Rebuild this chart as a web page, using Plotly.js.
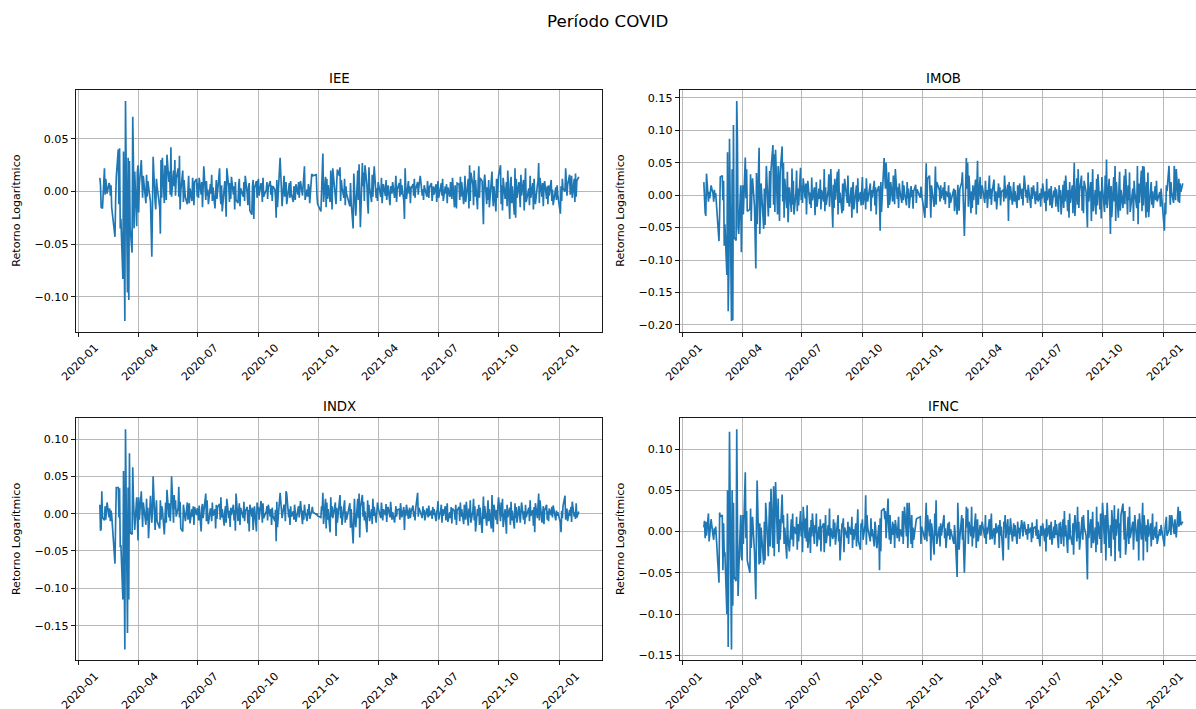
<!DOCTYPE html>
<html>
<head>
<meta charset="utf-8">
<script src="https://cdn.plot.ly/plotly-3.0.1.min.js"></script>
<style>
html,body{margin:0;padding:0;overflow:hidden;background:#fff;width:1196px;height:709px}
#chart{width:1215px;height:740px}
</style>
</head>
<body>
<div id="chart"></div>
<script>
// ---- data (daily log returns, in percent; one line per month) ----
const firstDay = '2020-02-03';
const holidays = ['2020-02-24','2020-02-25','2020-04-10','2020-04-21','2020-05-01','2020-06-11','2020-09-07','2020-10-12','2020-11-02','2020-12-24','2020-12-25','2020-12-31','2021-01-01','2021-01-25','2021-02-15','2021-02-16','2021-04-02','2021-04-21','2021-06-03','2021-09-07','2021-10-12','2021-11-02','2021-11-15','2021-12-24','2021-12-31'];
const quarterLabels = ['2020-01','2020-04','2020-07','2020-10','2021-01','2021-04','2021-07','2021-10','2022-01'];
const panelNames = ['IEE','IMOB','INDX','IFNC'];
const yLabel = 'Retorno Logarítmico';
const figTitle = 'Período COVID';

const ieePct = [
1.3,0.6,-1.5,-1.6,-1.6,2.2,-0.3,1.2,0.4,-0.2,0.8,0.6,-0.4,0.6,-1.5,-4.3,-0.9,1.4,
4.0,-1.2,4.1,-3.5,-2.6,-8.3,3.8,-5.2,-12.3,8.6,-9.6,3.2,-10.3,2.9,-3.4,-5.8,7.1,3.0,-3.5,1.9,-3.3,1.8,
2.5,-2.0,0.6,3.0,1.0,-0.6,1.5,-1.1,1.6,-0.5,1.0,0.4,-1.0,-6.2,0.8,3.3,-1.0,-1.7,1.2,0.5,
-1.5,-4.0,3.0,-0.6,3.2,-1.1,2.5,0.3,-0.8,3.5,0.9,1.9,-0.3,4.2,-0.5,2.0,0.5,3.0,-0.4,1.2,
2.2,-0.5,3.4,-1.7,0.0,2.0,-1.0,1.1,-0.6,-1.2,0.8,1.5,-1.1,0.3,-0.9,1.3,0.2,-1.3,0.9,1.2,-0.5,
0.8,-0.6,1.3,-0.3,0.9,-1.5,0.6,2.4,-0.8,1.0,-0.4,0.2,-1.2,0.7,-0.2,1.6,-0.9,0.4,-1.6,0.5,1.1,-0.7,0.3,
2.2,-0.4,-1.2,0.6,-1.9,0.3,1.0,-0.5,-2.4,2.2,0.4,-1.0,0.8,-0.7,1.4,-0.3,0.5,-1.7,0.9,-0.8,-1.1,
0.6,1.2,-1.4,0.3,-0.5,0.9,-0.9,1.5,-0.2,-1.3,0.4,0.8,-1.8,-2.2,0.5,1.1,-2.6,0.3,1.0,-0.6,0.7,
1.2,-0.4,0.8,0.3,-1.0,1.3,-0.5,0.2,0.9,-0.7,0.4,1.0,-0.3,0.6,-0.9,0.5,0.2,-0.6,-2.5,1.1,-1.5,
3.2,1.8,0.6,-1.4,1.5,-0.5,0.3,0.9,-1.2,0.4,0.8,-0.6,1.0,-0.2,-1.0,0.5,0.2,-0.8,0.7,-0.3,
0.9,-0.6,0.3,1.0,-0.4,0.5,1.2,2.4,-0.8,0.2,-0.5,0.7,0.4,-1.1,1.6,1.6,1.5,1.6,-0.4,-1.2,
-1.9,0.4,1.0,3.6,-1.0,1.4,-1.5,1.2,-0.7,0.6,-1.0,2.0,0.3,-1.7,2.2,-0.5,-1.2,0.8,2.1,
1.5,2.3,-0.9,1.1,0.4,-0.6,1.2,-1.3,0.5,-0.2,-1.4,0.8,-1.0,-3.5,1.7,0.6,-1.2,-2.3,
2.0,-0.8,2.6,-1.5,-3.4,2.7,0.5,1.8,-0.9,2.5,0.6,-1.2,-2.1,2.3,0.4,-1.0,1.6,-0.5,0.8,2.4,-0.6,0.3,-0.9,
0.9,-0.5,1.3,-1.1,0.2,0.7,-0.4,1.1,-0.8,0.3,0.6,-1.3,0.5,-0.2,0.9,-0.6,0.4,1.5,-1.0,0.2,
0.8,-0.5,1.2,-0.3,0.6,-0.9,-2.6,2.2,0.4,-0.7,1.0,-0.2,0.5,-1.1,0.3,0.7,-0.4,1.2,-0.6,0.2,0.9,
-0.3,0.5,1.5,-0.4,0.2,-0.8,0.6,0.3,-0.5,1.0,-0.2,-0.6,0.4,0.8,-0.9,0.1,0.5,-0.3,0.7,-1.0,0.4,
1.0,-0.6,0.3,0.8,-0.4,1.2,-0.9,0.5,-0.2,0.7,-1.1,0.4,-0.5,0.9,0.2,-0.7,1.3,-1.5,0.6,-0.3,-1.6,0.8,
0.7,-0.8,1.4,-0.5,0.9,-1.2,0.3,1.5,-1.0,-0.4,1.2,-1.6,2.5,-0.9,1.8,0.6,-1.3,2.0,-0.5,1.1,-1.7,0.8,
2.4,-0.6,1.3,1.0,-3.1,0.9,1.6,-1.2,0.4,-0.8,1.1,-1.5,0.7,1.9,-0.3,-1.4,0.5,-1.9,1.2,-0.6,0.3,
1.5,2.5,-1.2,0.6,-1.8,1.3,-0.7,0.9,-1.4,2.0,-2.6,0.8,1.4,-1.1,0.5,-2.2,2.2,-2.5,1.2,-0.6,
0.9,-1.5,1.6,-0.4,1.1,-1.8,0.7,2.2,-1.0,0.3,-1.3,1.5,-0.6,0.8,-1.7,1.2,-0.3,-1.2,0.6,1.0,
2.7,-1.1,1.3,-0.5,0.8,-1.4,0.3,1.0,-0.7,0.5,-1.2,0.6,-0.4,1.1,-0.9,0.2,-1.3,0.4,-0.8,0.6,-0.3,
-2.1,0.5,-0.9,1.2,0.3,0.0,2.2,1.0,-0.4,0.6,1.6,-0.3,0.8,1.5,-0.6,1.2,-1.0,1.7,-0.5,1.0,1.4
];

const imobPct = [
2.0,-2.5,-2.7,-3.2,3.3,-1.0,0.5,-0.5,1.0,1.5,0.2,-1.0,0.8,-0.4,0.3,-7.1,-3.0,2.8,
3.0,-0.8,2.2,-7.8,-4.5,-12.3,6.6,-17.9,-12.0,8.7,-19.4,4.0,-19.3,10.8,-6.5,-7.0,14.5,8.8,-5.0,-6.0,1.5,-8.8,
-2.0,1.5,-3.0,5.8,-0.5,4.0,-2.5,-2.2,3.2,-4.0,0.8,2.6,-1.8,-11.3,3.4,-4.5,7.3,-6.0,-2.5,1.8,
-5.2,1.0,-4.6,2.6,4.5,-3.3,-0.8,3.7,-2.0,3.8,7.7,-1.5,6.3,-2.6,7.0,-3.0,4.5,1.5,-4.0,3.5,
7.5,-1.0,5.0,-3.5,2.5,-2.0,3.6,-4.2,1.2,-2.6,4.1,-1.5,2.2,-3.0,0.5,3.8,-2.5,1.0,-1.6,4.2,-0.8,
1.5,-1.2,2.6,-0.5,1.8,-3.0,0.9,2.2,-1.4,0.4,-2.0,2.7,-0.8,1.2,-3.1,0.6,2.0,-1.8,1.0,-0.6,2.4,-2.2,0.8,
-1.0,4.0,-2.5,1.2,-1.5,0.8,3.2,-1.8,0.5,4.0,-5.0,1.6,-2.0,2.5,-0.7,3.6,-3.0,4.0,-1.2,0.4,-2.8,
1.8,-2.4,0.7,2.5,-1.2,3.0,-0.5,-1.8,1.2,-3.5,0.9,2.0,-2.2,0.4,1.5,-2.8,2.6,-1.0,0.5,-1.6,1.1,
2.8,-1.5,1.0,-2.2,2.6,0.6,-1.0,1.8,-2.5,0.8,-0.4,2.2,-1.6,1.2,-3.0,0.5,1.4,-1.1,-5.5,2.0,-2.6,
5.7,4.2,1.0,5.0,-2.0,3.5,-1.5,-0.8,2.0,-1.0,3.0,0.5,-1.4,4.0,-0.6,1.2,-2.0,1.8,0.6,-1.2,
2.2,-0.8,1.5,0.4,-1.6,2.0,-0.5,1.0,-2.0,1.4,-0.3,0.8,-2.1,0.6,1.6,-1.2,0.9,-0.4,1.3,0.2,
-3.5,1.0,4.9,-2.0,2.5,3.0,-1.2,-3.5,1.5,0.6,-1.8,0.4,4.4,-1.5,2.0,0.8,-1.0,1.5,-0.5,
1.2,-0.8,2.0,-1.4,0.6,-0.3,1.5,-2.0,0.4,-1.2,1.0,-2.5,0.8,-3.0,1.6,-0.7,-2.4,0.9,
2.0,3.5,-1.5,-2.5,-6.3,5.7,1.0,5.0,-1.8,3.0,-2.8,0.6,-2.0,1.5,-0.8,2.4,-3.0,1.2,5.3,-1.5,2.8,-0.6,1.0,
1.5,-1.2,2.2,-0.5,0.8,-2.0,3.0,-0.6,1.0,-1.5,0.3,2.4,-1.0,0.6,-2.2,1.8,-0.4,1.2,-1.6,0.5,
0.8,-1.0,3.0,1.2,-0.5,1.6,-4.0,2.0,-0.8,1.4,-1.5,0.5,2.0,-1.0,0.6,-2.0,1.5,0.2,-0.8,1.8,-0.6,
1.0,-1.6,3.0,-0.4,0.8,-1.2,1.6,0.5,-2.0,1.2,-0.6,0.4,1.5,-1.4,0.6,-0.8,2.0,-1.0,0.3,-1.8,1.0,
-0.5,1.8,-1.2,0.6,-2.5,2.5,-0.8,1.0,-1.6,0.4,1.4,-2.0,0.7,-0.3,1.2,-1.8,0.9,-2.6,1.5,-0.6,0.8,-3.0,
1.6,-2.0,2.2,-1.0,3.0,-2.5,0.8,-3.5,2.0,-1.2,1.5,-2.8,1.0,5.0,-3.2,2.6,-1.5,4.0,-2.0,0.6,3.0,-2.4,
1.4,-2.8,2.2,0.5,-5.0,3.5,-1.0,2.0,-4.0,1.2,4.0,-2.5,0.8,-3.0,2.5,-1.6,3.2,-2.2,0.6,-3.6,2.8,
1.0,-2.6,3.0,-1.5,5.5,-2.0,2.5,-6.0,1.4,-3.4,2.8,-1.0,4.5,-4.0,2.0,-3.5,1.2,3.6,-2.4,0.8,
-2.0,3.0,-1.4,4.0,-3.0,1.5,-0.8,3.5,-2.6,1.0,-4.0,2.2,0.4,-2.0,4.5,-4.5,1.8,-1.2,3.8,-2.5,
4.5,-1.6,4.4,-3.5,2.0,-2.6,3.5,-3.4,1.0,2.0,-1.5,0.6,-2.0,1.4,-0.8,2.2,-1.0,0.5,-1.8,1.0,-0.4,
-5.5,-1.2,-3.0,1.5,0.6,4.5,1.0,-1.5,2.0,0.4,-1.2,4.5,2.0,-0.8,4.0,-1.0,2.5,-1.2,1.8,0.5,1.8
];

const indxPct = [
1.2,-2.3,-2.0,3.0,-0.5,-0.9,1.0,-0.8,0.0,1.5,-0.5,0.7,-1.0,0.4,-0.2,-6.7,-1.0,3.5,
3.5,-0.5,3.4,-4.5,-4.2,-11.5,5.7,-6.5,-18.2,11.3,-16.0,3.5,-11.5,8.1,-2.5,-2.8,6.2,2.0,-1.8,-2.2,2.2,-0.8,
-3.6,2.2,-0.8,3.0,1.2,-1.8,1.5,-1.5,2.0,-0.9,0.8,-3.3,2.4,-1.2,0.5,5.0,-2.2,-0.5,1.8,-1.0,
-2.0,1.8,-0.8,1.0,0.6,-2.8,0.4,1.5,-1.2,3.2,-0.5,1.4,-1.0,0.8,5.0,-1.2,2.5,0.6,1.8,-0.4,
0.8,3.6,-0.5,1.6,-2.0,-2.4,1.2,0.5,-1.0,1.5,-0.8,0.3,1.4,-1.3,0.6,-0.4,1.0,-1.5,0.9,-0.2,0.7,
0.5,-0.9,1.1,-2.4,0.8,1.3,-0.6,0.4,2.7,-1.0,1.8,-0.5,-1.4,0.7,0.2,-1.0,1.5,-0.3,0.6,-2.0,1.2,-0.7,0.9,
1.3,-0.8,2.2,-0.5,0.6,-1.6,0.3,1.0,-1.2,2.0,-0.6,0.4,-1.8,0.8,-0.2,1.2,-0.9,0.5,-2.3,2.7,-1.0,
0.6,1.4,-1.5,0.8,-0.6,1.6,-1.0,0.3,0.9,-1.3,0.5,-2.4,1.2,-0.4,0.8,-2.2,-0.5,1.0,-2.4,1.5,0.4,
0.9,-0.8,1.7,0.5,-1.2,1.4,-0.6,0.3,1.0,-0.9,1.2,-0.4,0.6,-1.5,0.8,-0.3,-1.0,0.5,-3.7,1.6,-1.8,
2.8,1.5,0.4,-0.6,1.2,0.8,-1.0,3.0,2.7,-0.5,0.6,-1.5,1.0,-0.4,0.3,-0.8,1.2,0.2,-1.1,0.5,
1.0,-0.5,0.6,1.7,-1.4,0.4,-0.8,1.2,0.3,-1.0,0.6,-0.2,1.3,-0.7,0.4,0.9,0.2,-0.1,0.0,-0.3,
-0.5,1.0,0.4,2.8,-1.4,2.0,-2.0,1.5,-0.8,0.6,-2.5,2.2,-0.4,1.0,-0.6,1.5,-3.0,0.8,-1.2,
1.6,2.5,-0.6,1.0,-1.5,0.5,1.8,-1.2,0.3,-0.8,1.4,-1.9,0.6,-4.0,1.2,2.0,-0.9,-1.8,
2.0,-0.6,2.7,-3.2,0.8,2.5,-0.4,1.6,-0.9,0.3,-2.5,1.8,-0.5,1.2,-1.0,0.6,-1.4,2.0,-0.3,0.9,-1.2,0.4,1.5,
0.8,-0.6,1.5,0.3,-0.9,0.6,-0.2,1.3,-1.1,0.4,0.9,-0.5,1.6,-0.8,0.2,-1.2,0.7,1.0,-0.4,0.5,
0.6,-0.8,1.4,0.4,-0.5,0.9,-2.2,0.5,-0.3,1.2,-0.7,0.4,0.8,-0.6,0.2,1.1,-0.4,0.3,-0.9,0.6,2.8,
-0.4,0.8,0.3,-0.6,1.0,-0.2,0.5,-0.9,0.7,0.2,-0.5,1.1,-0.3,0.4,-0.7,0.9,-0.2,0.6,-1.0,0.3,0.5,
1.7,-0.8,0.4,1.2,-1.2,0.6,-0.3,1.0,-0.9,0.5,1.4,-1.1,0.2,-0.6,0.9,-1.3,0.7,0.3,-0.8,1.2,-1.5,0.4,
0.9,-1.0,1.5,-0.4,0.6,-1.4,1.2,0.3,-0.8,1.6,-1.6,0.7,-0.5,1.8,-1.2,0.4,2.0,-0.9,1.0,-2.4,0.6,-0.3,
1.2,-1.5,0.8,-2.6,2.3,-0.7,1.0,-1.6,0.4,1.8,-1.0,0.6,-2.0,2.5,-0.4,-2.5,1.2,-0.8,0.5,-1.4,1.0,
2.2,-1.0,1.5,-0.4,2.0,-1.8,0.6,-2.7,1.2,-0.5,0.8,-1.5,1.6,-0.9,0.4,-2.0,1.4,-0.6,0.9,-1.2,
1.0,-1.2,0.6,1.5,-0.8,0.3,-1.4,1.2,-0.5,0.8,-1.0,1.8,-0.3,0.5,-1.6,0.9,-2.5,1.4,-0.6,1.0,
2.7,-0.9,1.8,-1.2,0.6,1.0,-1.4,0.4,1.2,-0.8,0.3,-1.0,0.7,-0.2,0.9,-0.5,1.1,-0.9,0.4,-0.3,0.2,
-1.2,-2.5,0.4,-0.6,1.0,2.4,-0.8,0.3,0.7,-1.0,0.5,-0.3,0.9,-1.1,1.6,-0.4,0.2,-0.7,1.4,-0.5,0.3
];

const ifncPct = [
0.5,1.3,-0.8,1.2,-0.5,2.2,-1.2,-0.5,0.2,1.5,-0.5,-1.0,0.4,-0.3,0.6,-6.2,2.3,1.8,
2.0,-4.7,1.0,-3.0,-2.5,-10.0,5.0,-14.0,-4.0,12.1,-14.3,5.0,-9.0,3.5,-5.5,-6.0,12.4,4.0,-7.8,-5.0,2.0,-3.0,
-3.5,2.0,-1.5,7.2,-0.8,2.5,-3.5,-5.0,2.8,-2.0,1.5,1.8,-2.5,-8.2,1.0,6.2,-4.0,1.0,-3.8,0.5,
-4.0,1.2,-3.5,3.5,2.0,-3.0,1.0,3.6,-1.8,5.2,-2.0,5.5,-3.0,3.0,6.0,-1.5,4.0,-2.5,1.5,-1.0,
4.5,1.0,2.0,-1.5,0.5,-3.3,2.2,-0.8,-2.4,1.5,-1.0,2.2,-1.8,0.6,-0.3,1.8,-2.2,0.9,-1.2,2.5,-0.6,
1.2,-2.5,3.0,-0.8,1.6,-1.2,3.2,-2.0,0.5,-2.6,1.4,-0.6,2.2,-1.5,0.8,-0.2,2.2,-1.8,0.6,-1.0,1.5,-2.4,0.4,
1.0,-2.5,0.6,2.0,-1.4,0.8,-0.5,2.8,-1.8,0.4,-0.9,1.5,-0.7,1.1,-1.6,0.5,2.0,-1.2,0.3,-3.5,1.0,
0.8,1.6,-2.5,0.5,-0.8,1.2,-1.5,0.6,-0.4,1.8,-2.0,0.3,-1.0,1.0,-1.8,0.7,2.7,-1.2,-2.2,1.0,0.5,
1.5,-1.0,0.8,4.4,-1.6,2.0,0.5,-1.2,1.6,-0.6,0.3,-1.8,1.2,0.6,-1.0,-2.0,0.8,-4.7,1.6,-2.4,2.5,
2.8,1.5,2.5,-0.8,4.0,0.6,-1.0,2.0,-1.5,1.2,-0.4,0.9,-2.0,1.4,-0.8,0.5,1.8,-1.2,0.3,-0.6,
2.5,-1.5,1.0,3.0,-0.6,3.5,-2.0,0.8,3.5,-1.5,2.0,-2.0,0.5,-1.0,1.5,1.5,1.6,1.8,-1.5,0.6,
-1.0,0.8,3.5,-1.2,2.0,-0.6,1.5,-3.5,1.0,0.4,-2.8,2.2,-0.5,3.8,-1.5,0.6,-1.8,1.0,-0.5,
1.5,2.0,-0.8,0.4,-2.0,1.0,-0.5,1.2,-1.0,0.3,-1.5,0.8,-0.3,-5.5,3.5,1.0,-2.2,-0.8,
2.0,-1.0,1.6,-2.5,-5.0,3.0,0.5,2.8,-1.5,1.2,-0.6,3.0,-1.8,0.6,-0.8,2.2,-2.0,0.4,1.5,-1.2,0.8,-0.5,1.0,
1.2,-0.8,2.0,-1.5,0.5,-0.3,1.5,-1.0,0.6,2.2,-0.9,0.4,-1.6,1.0,-0.2,0.8,-2.0,1.4,-0.5,0.6,
-3.5,1.2,0.5,2.0,-0.8,1.5,-2.2,0.6,-0.4,1.6,-1.2,0.3,1.0,-0.6,0.8,-1.5,1.2,-0.2,0.5,-0.9,1.4,
0.8,-0.6,1.2,-0.4,0.3,-1.0,0.9,-0.2,0.5,-1.3,1.1,-0.8,0.4,0.6,-0.5,1.5,-0.9,0.2,-1.8,0.7,-0.3,
-0.5,1.0,-1.2,0.4,-2.4,1.5,-0.6,0.8,-1.0,0.3,1.2,-1.6,0.6,-0.8,1.4,-0.4,0.9,-2.0,1.0,-0.6,1.2,-1.5,
1.5,-1.8,2.5,-0.6,0.8,-2.6,1.4,-1.0,2.2,-0.4,-1.6,1.0,-2.8,0.6,2.0,-1.2,3.0,-0.8,1.2,-2.2,0.5,1.8,
-1.0,2.0,0.6,-0.5,-5.8,2.6,-0.8,1.5,-2.0,0.8,2.4,-1.4,0.5,-2.5,3.0,-1.6,1.2,-0.9,2.2,-2.6,1.0,
3.5,-1.5,2.0,-3.5,1.2,3.5,-2.0,0.8,-3.0,2.6,-1.0,3.2,-3.6,1.5,-0.5,2.8,-2.4,1.0,-3.2,2.0,
3.4,-1.0,2.5,-2.8,0.6,1.8,-1.5,3.0,-0.8,1.2,-2.2,0.5,2.0,-1.2,-0.4,1.5,-3.5,2.2,-1.0,0.8,
3.5,-3.5,2.0,-1.2,0.8,-2.5,1.5,-0.6,1.0,-1.8,0.4,2.2,-1.0,0.6,-0.8,1.2,-1.5,0.3,-0.5,0.8,0.2,
-1.8,0.4,1.0,1.8,-0.5,0.2,2.0,0.8,-0.4,2.0,0.5,-0.3,1.5,0.2,-0.7,3.0,0.6,1.0,2.5,0.8,1.2
];

// ---- helpers ----
function tradingDays(start, count, skip) {
  const out = [];
  const d = new Date(start + 'T00:00:00Z');
  while (out.length < count) {
    const dow = d.getUTCDay();
    const iso = d.toISOString().slice(0, 10);
    if (dow !== 0 && dow !== 6 && skip.indexOf(iso) < 0) out.push(iso);
    d.setUTCDate(d.getUTCDate() + 1);
  }
  return out;
}
function padRange(lo, hi) { const p = (hi - lo) * 0.05; return [lo - p, hi + p]; }
function fmt(v) { const s = Math.abs(v).toFixed(2); return (v < -1e-9 ? '\u2212' : '') + s; }

const W = 1215, H = 740;
const FONT = 'DejaVu Sans, Liberation Sans, sans-serif';
const cols = [[75.5, 602.5], [679.5, 1206.5]];
const rows = [[90, 332], [418.3, 660.5]];
const seriesList = [ieePct, imobPct, indxPct, ifncPct];

const traces = [];
const layout = {
  width: W, height: H, margin: {l: 0, r: 0, t: 0, b: 0},
  paper_bgcolor: '#fff', plot_bgcolor: '#fff',
  showlegend: false, font: {family: FONT, size: 11.1, color: '#000'},
  annotations: []
};

layout.annotations.push({
  text: figTitle, xref: 'paper', yref: 'paper', x: 607.5 / W, y: 1 - 21 / H,
  xanchor: 'center', yanchor: 'middle', showarrow: false,
  font: {family: FONT, size: 16.7, color: '#000'}
});

seriesList.forEach((pct, i) => {
  const vals = pct.map(v => v / 100);
  const dates = tradingDays(firstDay, vals.length, holidays);
  const c = cols[i % 2], r = rows[Math.floor(i / 2)];
  const n = i + 1, xs = n === 1 ? '' : String(n);
  traces.push({
    type: 'scatter', mode: 'lines', x: dates, y: vals,
    xaxis: 'x' + xs, yaxis: 'y' + xs,
    line: {color: '#1f77b4', width: 1.67}, hoverinfo: 'skip'
  });
  const yr = padRange(Math.min(...vals), Math.max(...vals));
  const t0 = Date.parse(dates[0] + 'T00:00:00Z'), t1 = Date.parse(dates[dates.length - 1] + 'T00:00:00Z');
  const xr = padRange(t0, t1).map(t => new Date(t).toISOString().slice(0, 10));
  const yt = [];
  for (let k = Math.ceil(yr[0] * 20 - 1e-9); k <= Math.floor(yr[1] * 20 + 1e-9); k++) yt.push(k / 20);
  const axCommon = {
    showline: true, mirror: true, linecolor: '#000', linewidth: 0.9,
    ticks: 'outside', ticklen: 3.9, tickwidth: 0.9, tickcolor: '#000',
    showgrid: true, gridcolor: '#b0b0b0', gridwidth: 0.9, zeroline: false,
    tickfont: {family: FONT, size: 11.1, color: '#000'}, fixedrange: true
  };
  layout['xaxis' + xs] = Object.assign({}, axCommon, {
    type: 'date', domain: [c[0] / W, c[1] / W], anchor: 'y' + xs, range: xr,
    tickvals: quarterLabels.map(q => q + '-01'), ticktext: quarterLabels,
    tickangle: -45, ticklabelshift: 17
  });
  layout['yaxis' + xs] = Object.assign({}, axCommon, {
    domain: [1 - r[1] / H, 1 - r[0] / H], anchor: 'x' + xs, range: yr,
    tickvals: yt, ticktext: yt.map(fmt)
  });
  layout.annotations.push({
    text: panelNames[i], xref: 'paper', yref: 'paper',
    x: (c[0] + c[1]) / 2 / W, y: 1 - (r[0] - 12) / H,
    xanchor: 'center', yanchor: 'middle', showarrow: false,
    font: {family: FONT, size: 13.3, color: '#000'}
  });
  layout.annotations.push({
    text: yLabel, xref: 'paper', yref: 'paper',
    x: (c[0] - 58.8) / W, y: 1 - (r[0] + r[1]) / 2 / H,
    xanchor: 'center', yanchor: 'middle', showarrow: false, textangle: -90,
    font: {family: FONT, size: 11.1, color: '#000'}
  });
});

Plotly.newPlot('chart', traces, layout, {displayModeBar: false, staticPlot: true});
</script>
</body>
</html>
